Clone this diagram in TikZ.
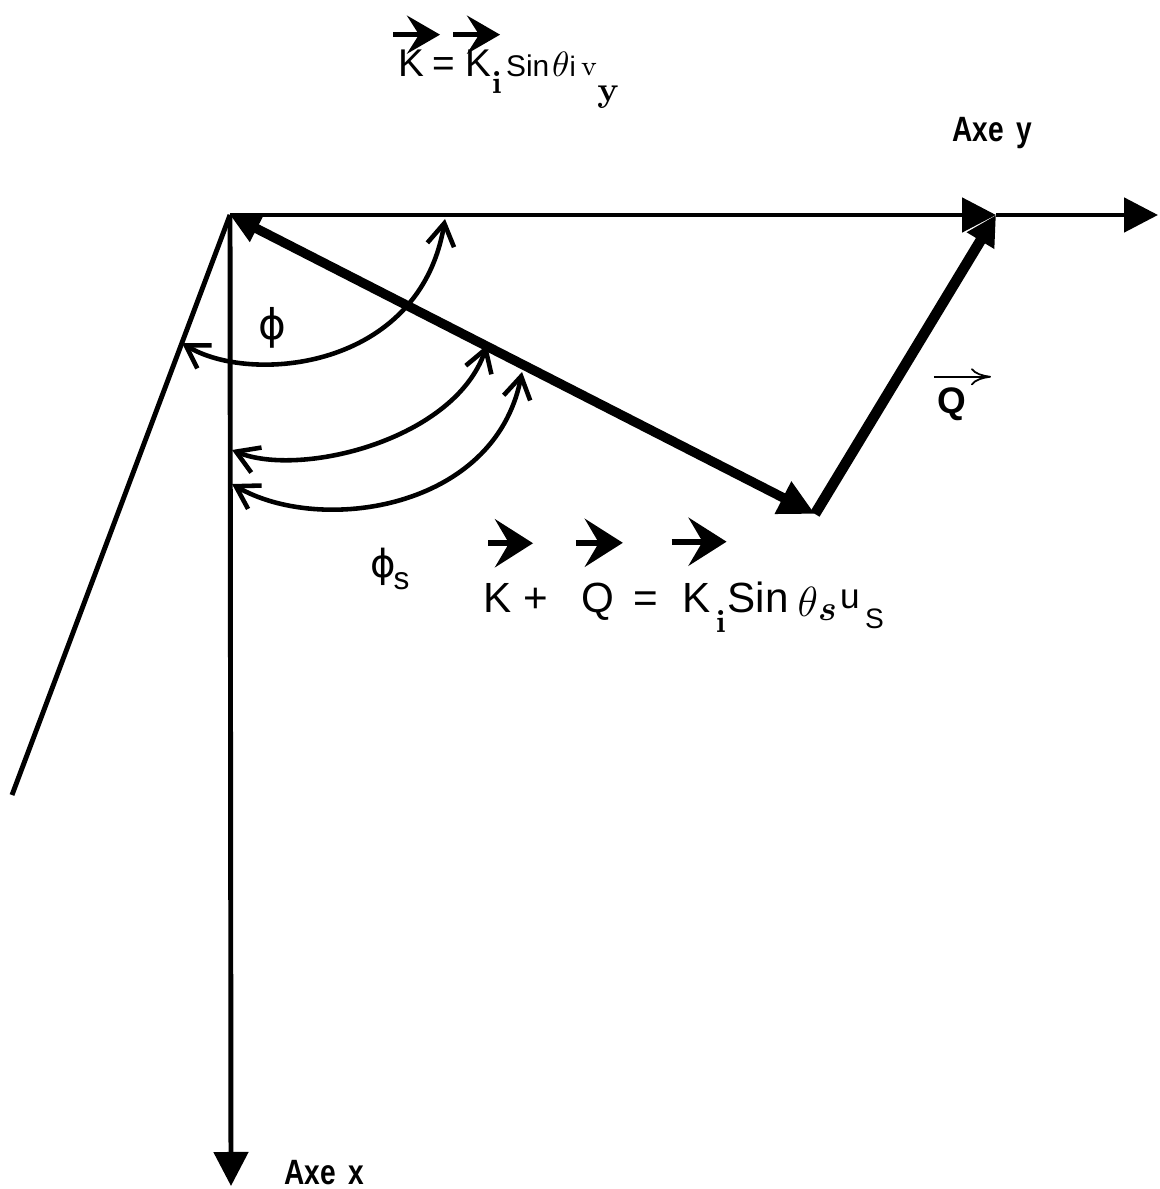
\documentclass[tikz,border=0pt]{standalone}
\usepackage{amsmath}
\usepackage[no-math]{fontspec}
\setmainfont{Liberation Sans}
\setsansfont{Liberation Sans}
\newfontfamily\phifont{DejaVu Sans}
\usetikzlibrary{arrows.meta,positioning}

\begin{document}
\begin{tikzpicture}[x=0.01cm, y=-0.01cm,
        axis/.style={line width=1.4pt, -{Triangle[length=0.34cm,width=0.34cm]}},
        vecline/.style={line width=2.7pt},
        angarc/.style={line width=1.3pt, {Straight Barb[length=0.22cm,width=0.27cm]}-{Straight Barb[length=0.22cm,width=0.27cm]}},
        bigvec/.style={line width=1.6pt, -{Stealth[length=0.38cm,width=0.48cm,inset=0.14cm]}},
        topvec/.style={line width=1.3pt, -{Stealth[length=0.33cm,width=0.38cm,inset=0.12cm]}},
        formula/.style={inner sep=0pt, anchor=base west, font=\fontsize{12}{14}\selectfont},
        topformula/.style={formula, font=\fontsize{11}{13}\selectfont},
        axlabel/.style={inner sep=0pt, font=\bfseries\fontsize{10}{12}\selectfont}]

    \useasboundingbox (0,0) rectangle (1159,1189);

    \coordinate (O) at (230,215);
    \coordinate (yq) at (996,215);
    \coordinate (yend) at (1158,215);
    \coordinate (xend) at (231,1186);
    \coordinate (slant) at (12,795);
    \coordinate (kend) at (815,514);

    \draw[axis] (O) -- (yq);
    \draw[axis] (yq) -- (yend);
    \draw[axis] (O) -- (xend);
    \draw[line width=1.4pt] (slant) -- (O);

    \draw[vecline, {Triangle[length=0.3cm,width=0.28cm]}-{Triangle[length=0.36cm,width=0.34cm]}] (O) -- (kend);
    \draw[vecline, line width=3pt, -{Triangle[length=0.3cm,width=0.3cm]}] (kend) -- (yq);

    \coordinate (phiA) at (182,343);
    \coordinate (phiB) at (445,219);
    \coordinate (psA) at (232,450);
    \coordinate (psB) at (487,345);
    \coordinate (ptA) at (232,484);
    \coordinate (ptB) at (522,372);
    \draw[angarc] (phiA) .. controls (250,385) and (420,370) .. (phiB);
    \draw[angarc] (psA) .. controls (300,478) and (455,440) .. (psB);
    \draw[angarc] (ptA) .. controls (320,535) and (495,510) .. (ptB);

    \node[axlabel] (axey) at (992,133) {\scalebox{0.8}[1]{Axe\, y}};
    \node[axlabel] (axex) at (324,1173) {\scalebox{0.8}[1]{Axe\, x}};
    \node[inner sep=0pt, font=\phifont\fontsize{12}{14}\selectfont] (phi) at (272,328) {ϕ};
    \node[inner sep=0pt, font=\phifont\fontsize{11}{13}\selectfont] (phis) at (383,567) {ϕ};
    \node[inner sep=0pt, anchor=base west, font=\fontsize{9}{10}\selectfont] (phisub) at (393,590) {s};

    \node[inner sep=0pt, font=\bfseries\fontsize{10.5}{12}\selectfont] (qlab) at (952,404) {Q};
    \draw[-{To[length=0.2cm,width=0.17cm]}, line width=0.5pt] ([xshift=-0.03cm,yshift=0.1cm]qlab.north west) -- ++(0.57cm,0);

    \node[topformula] (ktop) at (398,77) {K};
    \node[topformula, base right=2pt of ktop] (eqtop) {=};
    \node[topformula, base right=2.5pt of eqtop] (kitop) {K\raisebox{-4.6pt}{\fontsize{9}{10}\selectfont$\mathbf{i}$}\hspace{1.2pt}{\fontsize{8.5}{10}\selectfont Sin}\hspace{0.8pt}{\fontsize{10}{11}\selectfont$\mathrm{\theta}$}{\fontsize{8}{9}\selectfont i}\hspace{1.5pt}\raisebox{0.3pt}{\fontsize{8}{9}\selectfont$\mathrm{v}$}\raisebox{-7pt}{\fontsize{10}{11}\selectfont$\mathbf{y}$}};
    \draw[topvec] ([xshift=-0.05cm,yshift=0.15cm]ktop.north west) -- ++(0.47cm,0);
    \draw[topvec] ([xshift=-0.12cm,yshift=0.15cm]kitop.north west) -- ++(0.47cm,0);

    \node[formula] (kbot) at (483,612) {K};
    \node[formula, base right=3pt of kbot] (plusbot) {+};
    \node[formula, base right=9pt of plusbot] (qbot) {Q};
    \node[formula, base right=5pt of qbot] (eqbot) {=};
    \node[formula, base right=6.5pt of eqbot] (kibot) {K\hspace{1.5pt}\raisebox{-5.7pt}{\fontsize{9}{10}\selectfont$\mathbf{i}$}\hspace{0.5pt}Sin\hspace{2.5pt}\raisebox{-1.4pt}{\fontsize{12}{13}\selectfont$\theta$}\raisebox{-2.3pt}{\fontsize{10}{11}\selectfont$\boldsymbol{s}$}\hspace{1pt}\raisebox{1pt}{\fontsize{10}{11}\selectfont u}\hspace{1.5pt}\raisebox{-4.6pt}{\fontsize{8}{9}\selectfont S}};
    \draw[bigvec] ([xshift=0.05cm,yshift=0.39cm]kbot.north west) -- ++(0.45cm,0);
    \draw[bigvec] ([xshift=-0.05cm,yshift=0.39cm]qbot.north west) -- ++(0.47cm,0);
    \draw[bigvec] ([xshift=-0.1cm,yshift=0.39cm]kibot.north west) -- ++(0.55cm,0);
\end{tikzpicture}
\end{document}
